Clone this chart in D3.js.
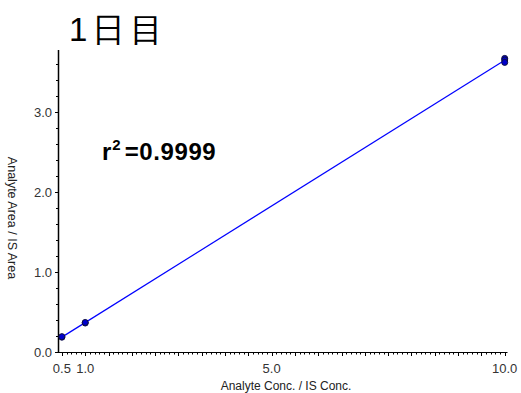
<!DOCTYPE html>
<html>
<head>
<meta charset="utf-8">
<script src="https://cdn.jsdelivr.net/npm/d3@7"></script>
<style>
body { margin: 0; background: #fff; }
text { font-family: "Liberation Sans", Arial, sans-serif; }
</style>
</head>
<body>
<svg id="chart" width="521" height="393"></svg>
<script>
// calibration points (Analyte Conc. / IS Conc., Analyte Area / IS Area)
const concs = [0.5, 0.5, 1.0, 1.0, 10.0, 10.0, 10.0];
const ratios = [0.185, 0.192, 0.362, 0.369, 3.67, 3.65, 3.62];
const xTickLabels = [0.5, 1.0, 5.0, 10.0];
const yTickLabels = [0.0, 1.0, 2.0, 3.0];
const titleText = "1日目";
const r2Text = "0.9999";

const svg = d3.select("#chart");

const x = d3.scaleLinear().domain([0.427, 10.06]).range([58.5, 507.5]);
const y = d3.scaleLinear().domain([0, 3.775]).range([352, 50]);

// least squares line through the points
const n = concs.length;
const mx = d3.mean(concs), my = d3.mean(ratios);
let sxy = 0, sxx = 0;
for (let i = 0; i < n; i++) {
    sxy += (concs[i] - mx) * (ratios[i] - my);
    sxx += (concs[i] - mx) * (concs[i] - mx);
}
const slope = sxy / sxx;
const icpt = my - slope * mx;
const xMin = d3.min(concs), xMax = d3.max(concs);

// minor ticks
const yMinor = d3.range(0, 3.75, 0.2);
svg.append("g").selectAll("line")
    .data(yMinor)
    .enter().append("line")
    .attr("x1", 56).attr("x2", 58.5)
    .attr("y1", d => Math.round(y(d)) + 0.5)
    .attr("y2", d => Math.round(y(d)) + 0.5)
    .attr("stroke", "#000");

svg.append("g").selectAll("line")
    .data(yTickLabels)
    .enter().append("line")
    .attr("x1", 55).attr("x2", 58.5)
    .attr("y1", d => Math.round(y(d)) + 0.5)
    .attr("y2", d => Math.round(y(d)) + 0.5)
    .attr("stroke", "#000");

const xMinor = d3.range(0.5, 10.05, 0.1);
svg.append("g").selectAll("line")
    .data(xMinor)
    .enter().append("line")
    .attr("x1", d => Math.round(x(d)) + 0.5)
    .attr("x2", d => Math.round(x(d)) + 0.5)
    .attr("y1", 352)
    .attr("y2", d => Math.abs(d * 2 - Math.round(d * 2)) < 1e-6 ? 356 : 354.5)
    .attr("stroke", "#000");

// axis lines
svg.append("line")
    .attr("x1", 58.5).attr("x2", 58.5).attr("y1", 50).attr("y2", 352.5)
    .attr("stroke", "#000").attr("stroke-width", 1.5);
svg.append("line")
    .attr("x1", 58).attr("x2", 507.5).attr("y1", 352.5).attr("y2", 352.5)
    .attr("stroke", "#000");

// tick labels
svg.append("g").selectAll("text")
    .data(yTickLabels)
    .enter().append("text")
    .attr("x", 52)
    .attr("y", d => y(d) + 4.5)
    .attr("text-anchor", "end")
    .attr("font-size", 13)
    .attr("fill", "#333")
    .text(d => d.toFixed(1));

svg.append("g").selectAll("text")
    .data(xTickLabels)
    .enter().append("text")
    .attr("x", d => x(d))
    .attr("y", 373)
    .attr("text-anchor", "middle")
    .attr("font-size", 13)
    .attr("fill", "#333")
    .text(d => d.toFixed(1));

// axis titles
svg.append("text")
    .attr("x", 286).attr("y", 390)
    .attr("text-anchor", "middle")
    .attr("font-size", 12)
    .attr("fill", "#222")
    .text("Analyte Conc. / IS Conc.");

svg.append("text")
    .attr("transform", "translate(8,218) rotate(90)")
    .attr("text-anchor", "middle")
    .attr("font-size", 12.5)
    .attr("fill", "#222")
    .text("Analyte Area / IS Area");

// fit line
svg.append("line")
    .attr("x1", x(xMin)).attr("y1", y(slope * xMin + icpt))
    .attr("x2", x(xMax)).attr("y2", y(slope * xMax + icpt))
    .attr("stroke", "#0000ff")
    .attr("stroke-width", 1.2);

// points
svg.append("g").selectAll("circle")
    .data(concs.map((c, i) => ({c: c, r: ratios[i]})))
    .enter().append("circle")
    .attr("cx", d => x(d.c))
    .attr("cy", d => y(d.r))
    .attr("r", 3)
    .attr("fill", "#0000cc")
    .attr("stroke", "#101040")
    .attr("stroke-width", 1);

// title
svg.append("text")
    .attr("x", 69).attr("y", 41)
    .attr("font-family", "'Noto Sans CJK JP', sans-serif")
    .attr("font-size", 33)
    .attr("font-weight", 500)
    .attr("letter-spacing", 5)
    .attr("fill", "#000")
    .text(titleText);

// r squared
const r2 = svg.append("text")
    .attr("x", 102).attr("y", 160)
    .attr("font-size", 24)
    .attr("font-weight", "bold")
    .attr("fill", "#000");
r2.append("tspan").text("r");
r2.append("tspan").attr("dy", -10).attr("dx", 1).attr("font-size", 15).text("2");
r2.append("tspan").attr("dy", 10).attr("dx", 4).attr("letter-spacing", 0.6).text("=" + r2Text);
</script>
</body>
</html>
